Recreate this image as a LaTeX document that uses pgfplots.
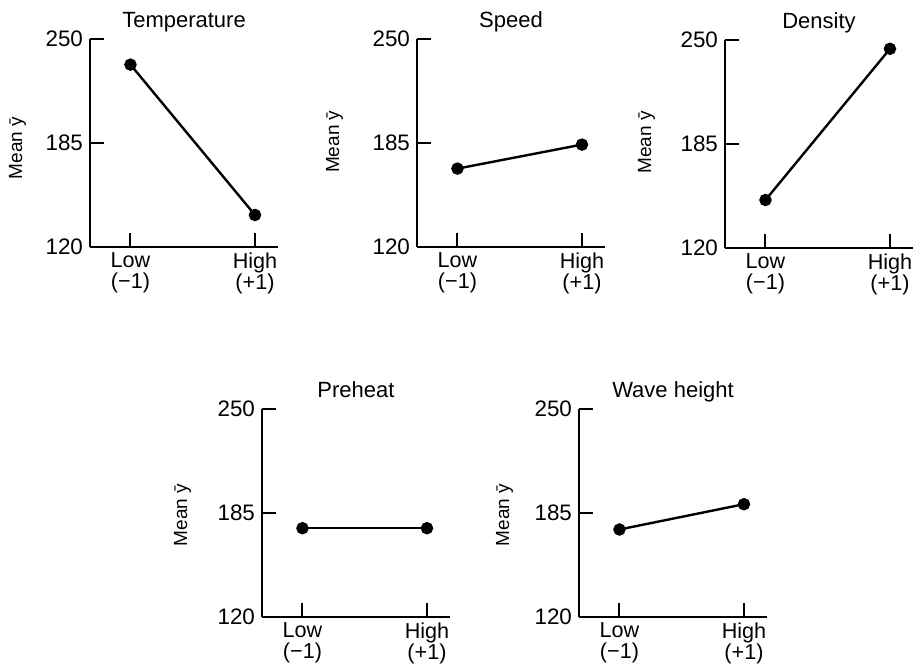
\documentclass[border=0pt]{standalone}
\usepackage{fontspec}
\setmainfont{Liberation Sans}
\usepackage{pgfplots}
\pgfplotsset{compat=1.18}

\pgfplotsset{
  effect/.style 2 args={
    scale only axis,
    width=94pt, height=104pt,
    anchor=south west,
    axis lines=left,
    axis line style={-, line width=1.2pt},
    xmin=-1.65, xmax=1.37,
    ymin=120, ymax=250,
    ytick={120,185,250},
    xtick={-1,1},
    xticklabels={{Low\\(−1)},{High\\(+1)}},
    tick align=inside,
    major tick length=7pt,
    tick style={black, line width=1pt},
    /pgf/number format/assume math mode=true,
    tick label style={font=\fontsize{11.2}{9.5}\selectfont},
    xticklabel style={align=center, font=\fontsize{10.8}{10.8}\selectfont,
      inner sep=2.5pt},
    ylabel={Mean ȳ},
    ylabel style={font=\fontsize{9.5}{11}\selectfont,
      at={(axis description cs:#1,#2)}, anchor=south, inner sep=0pt},
    title style={font=\fontsize{11}{13}\selectfont, inner sep=2pt,
      text depth=0pt, yshift=-2.5pt},
    clip=false,
  },
  effplot/.style={black, line width=1.2pt, mark=*, mark size=2.5pt,
    mark options={solid, fill=black}},
}

\begin{document}
\begin{tikzpicture}
\path (0,0) rectangle (460pt,335.5pt);

\begin{axis}[effect={-0.338}{0.476}, at={(45pt,212pt)}, title={Temperature}]
  \addplot[effplot] coordinates {(-1,234) (1,140)};
\end{axis}

\begin{axis}[effect={-0.391}{0.506}, at={(208.5pt,212pt)}, title={Speed}]
  \addplot[effplot] coordinates {(-1,169) (1,184)};
\end{axis}

\begin{axis}[effect={-0.370}{0.507}, at={(362.5pt,211.5pt)}, title={Density}]
  \addplot[effplot] coordinates {(-1,150) (1,244.5)};
\end{axis}

\begin{axis}[effect={-0.375}{0.49}, at={(131pt,27pt)}, title={Preheat}]
  \addplot[effplot] coordinates {(-1,175.5) (1,175.5)};
\end{axis}

\begin{axis}[effect={-0.348}{0.49}, at={(289.5pt,27pt)}, title={Wave height}]
  \addplot[effplot] coordinates {(-1,174.7) (1,190.5)};
\end{axis}
\end{tikzpicture}
\end{document}
